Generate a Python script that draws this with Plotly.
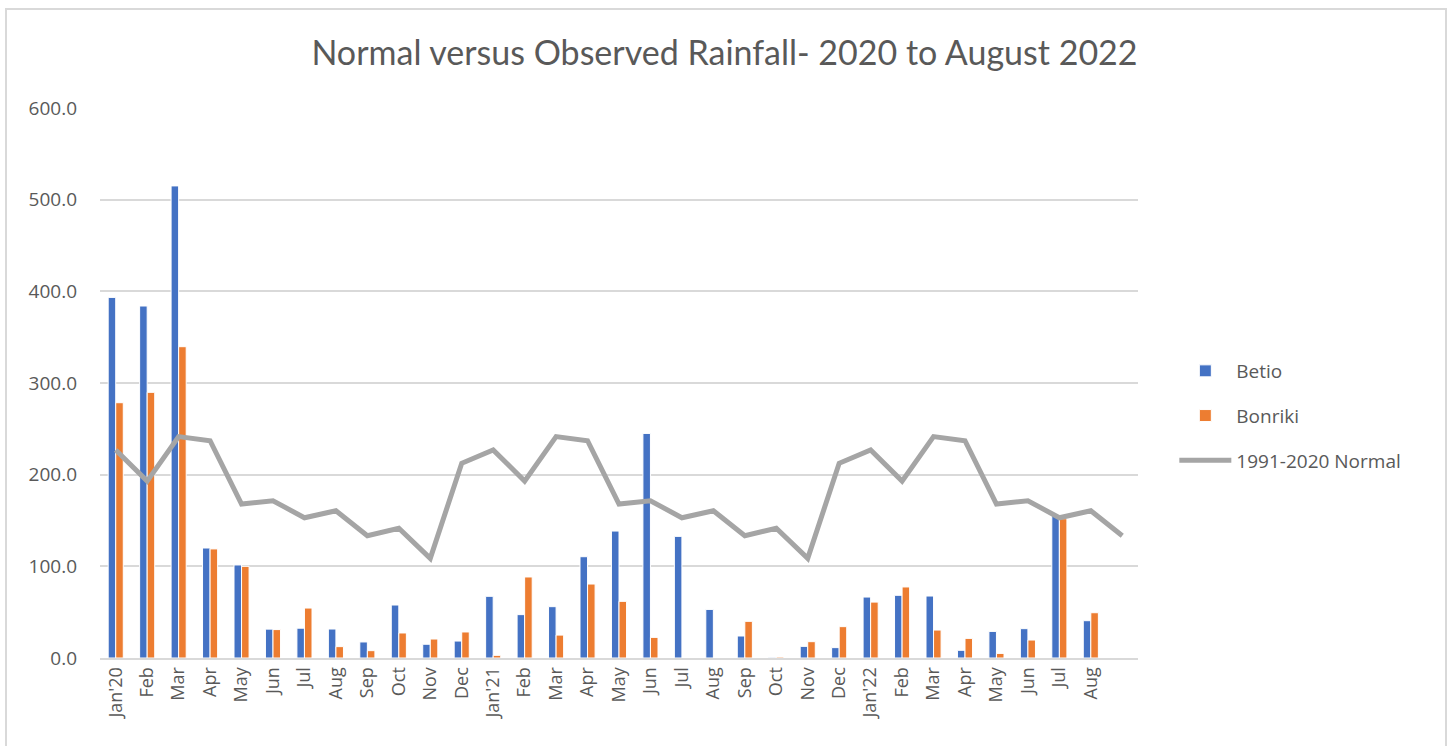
import plotly.graph_objects as go

months = ["Jan'20", "Feb", "Mar", "Apr", "May", "Jun", "Jul", "Aug", "Sep", "Oct", "Nov", "Dec",
          "Jan'21", "Feb", "Mar", "Apr", "May", "Jun", "Jul", "Aug", "Sep", "Oct", "Nov", "Dec",
          "Jan'22", "Feb", "Mar", "Apr", "May", "Jun", "Jul", "Aug", ""]

betio = [393.4, 384.0, 515.0, 120.0, 101.5, 31.5, 32.5, 31.6, 17.5, 57.8, 15.0, 18.5,
         67.3, 47.3, 56.0, 110.5, 138.5, 245.0, 132.7, 53.0, 24.0, 0.8, 12.7, 11.3,
         66.5, 68.4, 67.6, 8.4, 29.0, 32.0, 156.0, 40.7, None]

bonriki = [278.5, 289.8, 339.6, 119.0, 100.0, 31.0, 54.5, 12.4, 8.0, 27.3, 20.7, 28.4,
           2.9, 88.4, 25.0, 80.7, 61.8, 22.5, 0.0, 0.0, 40.0, 1.1, 17.8, 34.2,
           61.0, 77.5, 30.5, 21.4, 5.0, 19.6, 152.0, 49.4, None]

normal = [227.0, 193.0, 241.5, 237.0, 168.0, 171.6, 153.0, 160.7, 133.4, 141.5, 108.7, 212.4,
          227.0, 193.0, 241.5, 237.0, 168.0, 171.6, 153.0, 160.7, 133.4, 141.5, 108.7, 212.4,
          227.0, 193.0, 241.5, 237.0, 168.0, 171.6, 153.0, 160.7, 133.4]

y_ticks = [0, 100, 200, 300, 400, 500, 600]

x_idx = list(range(len(months)))
txt = "#595959"
tick_family = "'Open Sans', sans-serif"
title_family = "Lato, 'Open Sans', sans-serif"

fig = go.Figure()
fig.add_trace(go.Bar(x=x_idx, y=betio, name="Betio", marker=dict(color="#4472C4", line=dict(color="white", width=1)),
                     legendgroup="a"))
fig.add_trace(go.Bar(x=x_idx, y=bonriki, name="Bonriki", marker=dict(color="#ED7D31", line=dict(color="white", width=1)),
                     legendgroup="b"))
fig.add_trace(go.Scatter(x=x_idx, y=normal, name="1991-2020 Normal", mode="lines",
                         line=dict(color="#A5A5A5", width=5), legendgroup="c"))

fig.update_layout(
    width=1449, height=746,
    paper_bgcolor="white", plot_bgcolor="white",
    margin=dict(l=100, r=311, t=108, b=88),
    barmode="group", bargap=0.52, bargroupgap=0.0,
    font=dict(family=tick_family, color=txt, size=18),
    title=dict(text="Normal versus Observed Rainfall- 2020 to August 2022", x=0.5, xref="container",
               y=1 - 53 / 746, yref="container", yanchor="middle", xanchor="center",
               font=dict(size=34, color=txt, family=title_family)),
    legend=dict(x=1.035, y=0.44, xanchor="left", yanchor="middle", font=dict(size=19, color=txt, family=tick_family),
                traceorder="grouped", tracegroupgap=17, bgcolor="rgba(0,0,0,0)", itemwidth=52),
    xaxis=dict(range=[-0.5, len(months) - 0.5], tickmode="array", tickvals=x_idx, ticktext=months,
               tickangle=-90, showgrid=False, showline=True, linecolor="#D9D9D9", linewidth=2,
               ticks="", tickfont=dict(size=18, color=txt, family=tick_family), zeroline=False),
    yaxis=dict(range=[0, 600], tickmode="array", tickvals=y_ticks,
               ticktext=[f"{v:.1f}" for v in y_ticks], showgrid=True, gridcolor="#D9D9D9", gridwidth=1.5,
               zeroline=False, showline=False, ticks="", ticklabelstandoff=22,
               tickfont=dict(size=19, color=txt, family=tick_family)),
    shapes=[dict(type="rect", xref="paper", yref="paper", x0=(6 - 100) / 1038, x1=(1446 - 100) / 1038,
                 y0=(658 - 770) / 550, y1=(658 - 9) / 550, line=dict(color="#D9D9D9", width=2),
                 fillcolor="rgba(0,0,0,0)", layer="below")],
)

fig.write_html("out.html", config={"displayModeBar": False},
               post_script="document.body.style.margin='0';document.body.style.padding='0';")
